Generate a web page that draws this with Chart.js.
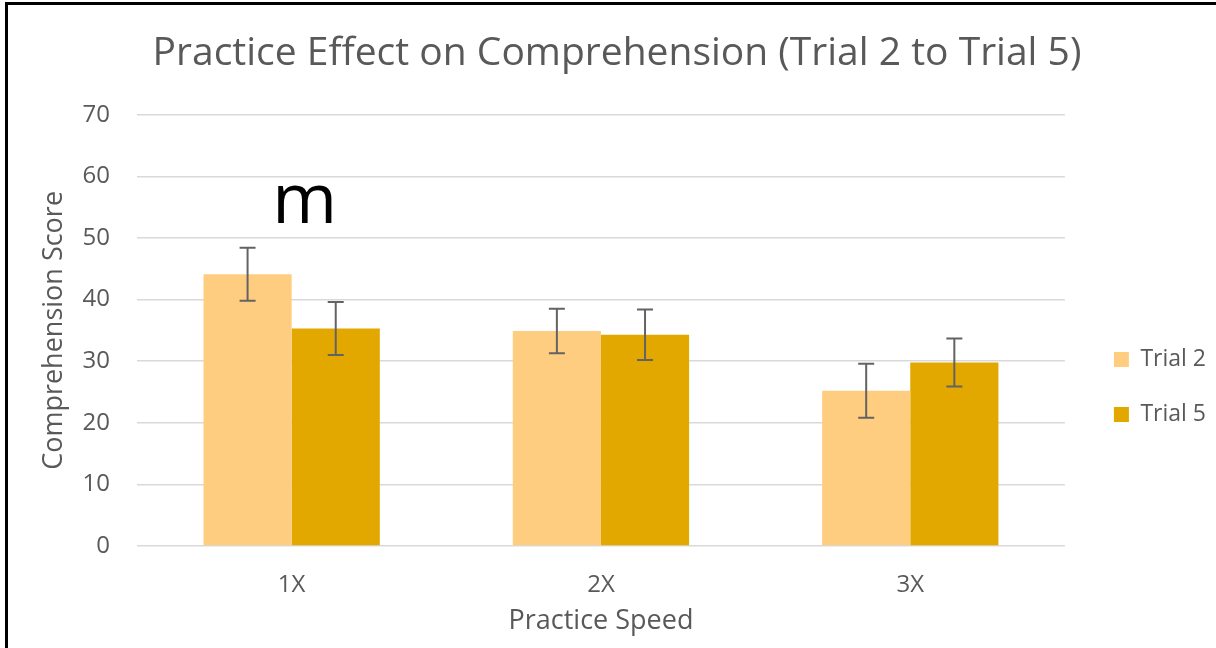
<!DOCTYPE html>
<html>
<head>
<meta charset="utf-8">
<script src="https://cdn.jsdelivr.net/npm/chart.js@4.4.1/dist/chart.umd.min.js"></script>
<style>
  body { margin: 0; background: #fff; }
  #wrap { position: relative; width: 1216px; height: 648px; }
  #frame { position: absolute; left: 5px; top: 2px; right: 0; bottom: 0;
           border-top: 3px solid #000; border-left: 3px solid #000; pointer-events: none; }
</style>
</head>
<body>
<div id="wrap">
  <canvas id="chart" width="1216" height="648"></canvas>
  <div id="frame"></div>
</div>
<script>
const categories = ['1X', '2X', '3X'];
const trial2 = [44.1, 34.9, 25.2];
const trial5 = [35.3, 34.3, 29.8];
// half-length of error bars
const trial2Err = [4.3, 3.6, 4.4];
const trial5Err = [4.3, 4.1, 3.9];
const yTicks = [0, 10, 20, 30, 40, 50, 60, 70];
// significance mark above 1X (baseline value)
const marker = { label: 'm', category: 0, value: 52.4 };

const textColor = '#595959';
const font = "'Open Sans', 'Noto Sans', sans-serif";

// draw error bars
const errorBars = {
    id: 'errorBars',
    afterDatasetsDraw(chart) {
        const ctx = chart.ctx;
        const y = chart.scales.y;
        chart.data.datasets.forEach((ds, i) => {
            const meta = chart.getDatasetMeta(i);
            meta.data.forEach((bar, j) => {
                const v = ds.data[j];
                const e = ds.errors[j];
                const top = y.getPixelForValue(v + e);
                const bottom = y.getPixelForValue(v - e);
                ctx.save();
                ctx.strokeStyle = '#636363';
                ctx.lineWidth = 2;
                ctx.beginPath();
                ctx.moveTo(bar.x, top);
                ctx.lineTo(bar.x, bottom);
                ctx.moveTo(bar.x - 8, top);
                ctx.lineTo(bar.x + 8, top);
                ctx.moveTo(bar.x - 8, bottom);
                ctx.lineTo(bar.x + 8, bottom);
                ctx.stroke();
                ctx.restore();
            });
        });
    }
};

// the "m" mark
const markerPlugin = {
    id: 'marker',
    afterDraw(chart) {
        const ctx = chart.ctx;
        const x = chart.scales.x.getPixelForValue(marker.category) + 13;
        const y = chart.scales.y.getPixelForValue(marker.value);
        ctx.save();
        ctx.fillStyle = '#000';
        ctx.font = "70px " + font;
        ctx.textAlign = 'center';
        ctx.textBaseline = 'alphabetic';
        ctx.fillText(marker.label, x, y);
        ctx.restore();
    }
};

new Chart(document.getElementById('chart').getContext('2d'), {
    type: 'bar',
    data: {
        labels: categories,
        datasets: [{
            label: 'Trial 2',
            data: trial2,
            errors: trial2Err,
            backgroundColor: '#ffcd80',
            borderWidth: 0
        }, {
            label: 'Trial 5',
            data: trial5,
            errors: trial5Err,
            backgroundColor: '#e2a800',
            borderWidth: 0
        }]
    },
    options: {
        responsive: false,
        animation: false,
        categoryPercentage: 0.57,
        barPercentage: 1.0,
        layout: { padding: { left: 18, right: 0, top: 0, bottom: 0 } },
        plugins: {
            title: {
                display: true,
                text: 'Practice Effect on Comprehension (Trial 2 to Trial 5)',
                color: textColor,
                font: { family: font, size: 39, weight: 'normal' },
                padding: { top: 30, bottom: 38 }
            },
            legend: {
                position: 'right',
                title: { display: true, text: ' ', font: { size: 10 }, padding: { top: 114, bottom: 0 } },
                labels: {
                    color: textColor,
                    font: { family: font, size: 23 },
                    boxWidth: 15,
                    boxHeight: 15,
                    padding: 32
                }
            },
            tooltip: { enabled: false }
        },
        scales: {
            x: {
                afterFit(axis) { axis.height = 102; },
                grid: { display: false, drawTicks: false },
                border: { display: false },
                ticks: { color: textColor, font: { family: font, size: 24 }, padding: 25 },
                title: {
                    display: true,
                    text: 'Practice Speed',
                    color: textColor,
                    font: { family: font, size: 27 },
                    padding: { top: 0, bottom: 10 }
                }
            },
            y: {
                min: 0,
                max: 70,
                afterFit(axis) { axis.width = 119; },
                afterBuildTicks(axis) { axis.ticks = yTicks.map(v => ({ value: v })); },
                grid: { color: '#d9d9d9', lineWidth: 1.5, drawTicks: false },
                border: { display: false },
                ticks: { color: textColor, font: { family: font, size: 24 }, padding: 27 },
                title: {
                    display: true,
                    text: 'Comprehension Score',
                    color: textColor,
                    font: { family: font, size: 27 },
                    padding: { top: 20, bottom: 0 }
                }
            },
            // empty gap between plot and legend
            gap: {
                position: 'right',
                display: true,
                afterFit(axis) { axis.width = 17; },
                grid: { display: false },
                border: { display: false },
                ticks: { display: false }
            }
        }
    },
    plugins: [errorBars, markerPlugin]
});
</script>
</body>
</html>
